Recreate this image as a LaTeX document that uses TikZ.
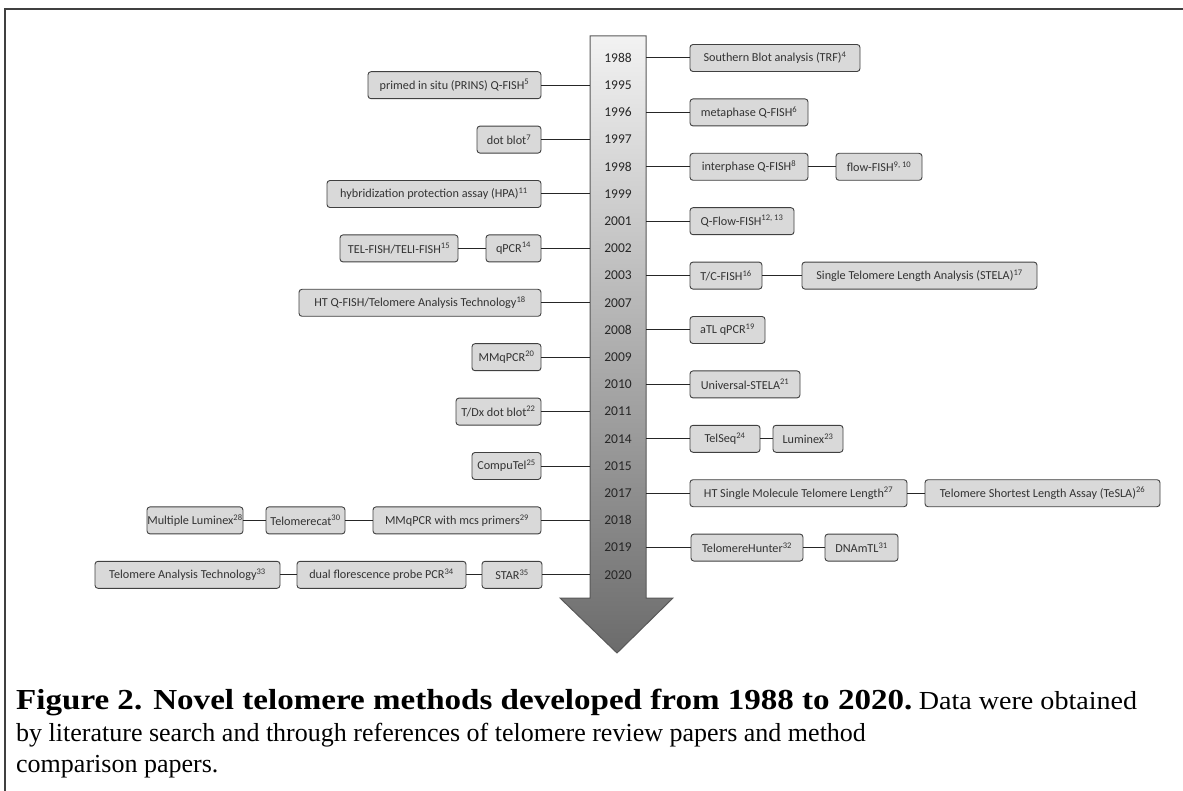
\documentclass[tikz,border=0pt]{standalone}
\usepackage{fontspec}
\setmainfont{Liberation Serif}
\newfontfamily\boxfont{Carlito}
\begin{document}
\begin{tikzpicture}[x=1pt,y=-1pt,
  box/.style={draw=black!75, line width=0.9pt, rounded corners=3pt, fill=black!15,
    minimum height=27pt, inner sep=0pt, font=\boxfont\fontsize{12.2}{14}\selectfont, text=black!80},
  yr/.style={font=\boxfont\fontsize{13.5}{16}\selectfont, text=black!85, inner sep=0pt},
  conn/.style={draw=black!85, line width=1pt},
  captxt/.style={anchor=base west, inner sep=0pt, font=\fontsize{26}{30}\selectfont}]
\useasboundingbox (0,0) rectangle (1183,791);
% border
\draw[line width=2pt, black!75] (5,791) -- (5,9) -- (1183,9);
% arrow
\shade[top color=black!5, bottom color=black!58, draw=black!65, line width=1pt]
  (590,36) -- (646,36) -- (646,598) -- (673,598) -- (617,653) -- (560,598) -- (590,598) -- cycle;
\coordinate (sL) at (590,0);
\coordinate (sR) at (646,0);
% years
\node[yr] (y88) at (618,58) {1988};
\node[yr] (y95) at (618,85.2) {1995};
\node[yr] (y96) at (618,112.4) {1996};
\node[yr] (y97) at (618,139.6) {1997};
\node[yr] (y98) at (618,166.8) {1998};
\node[yr] (y99) at (618,194) {1999};
\node[yr] (y01) at (618,221.2) {2001};
\node[yr] (y02) at (618,248.4) {2002};
\node[yr] (y03) at (618,275.6) {2003};
\node[yr] (y07) at (618,302.8) {2007};
\node[yr] (y08) at (618,330) {2008};
\node[yr] (y09) at (618,357.2) {2009};
\node[yr] (y10) at (618,384.4) {2010};
\node[yr] (y11) at (618,411.6) {2011};
\node[yr] (y14) at (618,438.8) {2014};
\node[yr] (y15) at (618,466) {2015};
\node[yr] (y17) at (618,493.2) {2017};
\node[yr] (y18) at (618,520.4) {2018};
\node[yr] (y19) at (618,547.6) {2019};
\node[yr] (y20) at (618,574.8) {2020};
% right boxes
\node[box, minimum width=170pt] (r88) at (775,58) {Southern Blot analysis (TRF)\textsuperscript{4}};
\node[box, minimum width=118pt] (r96) at (749,112.4) {metaphase Q-FISH\textsuperscript{6}};
\node[box, minimum width=118pt] (r98a) at (749,166.8) {interphase Q-FISH\textsuperscript{8}};
\node[box, minimum width=86pt] (r98b) at (879,166.8) {flow-FISH\textsuperscript{9, 10}};
\node[box, minimum width=104pt] (r01) at (742,221.2) {Q-Flow-FISH\textsuperscript{12, 13}};
\node[box, minimum width=72pt] (r03a) at (726,275.6) {T/C-FISH\textsuperscript{16}};
\node[box, minimum width=235pt] (r03b) at (919.5,275.6) {Single Telomere Length Analysis (STELA)\textsuperscript{17}};
\node[box, minimum width=75pt] (r08) at (727.5,330) {aTL qPCR\textsuperscript{19}};
\node[box, minimum width=110pt] (r10) at (745,384.4) {Universal-STELA\textsuperscript{21}};
\node[box, minimum width=70pt] (r14a) at (725,438.8) {TelSeq\textsuperscript{24}};
\node[box, minimum width=70pt] (r14b) at (808,438.8) {Luminex\textsuperscript{23}};
\node[box, minimum width=217pt] (r17a) at (798.5,493.2) {HT Single Molecule Telomere Length\textsuperscript{27}};
\node[box, minimum width=235pt] (r17b) at (1042.5,493.2) {Telomere Shortest Length Assay (TeSLA)\textsuperscript{26}};
\node[box, minimum width=112pt] (r19a) at (747,547.6) {TelomereHunter\textsuperscript{32}};
\node[box, minimum width=73pt] (r19b) at (861.5,547.6) {DNAmTL\textsuperscript{31}};
% left boxes
\node[box, minimum width=173pt] (l95) at (454.5,85.2) {primed in situ (PRINS) Q-FISH\textsuperscript{5}};
\node[box, minimum width=64pt] (l97) at (509,139.6) {dot blot\textsuperscript{7}};
\node[box, minimum width=214pt] (l99) at (434,194) {hybridization protection assay (HPA)\textsuperscript{11}};
\node[box, minimum width=55pt] (l02a) at (513.5,248.4) {qPCR\textsuperscript{14}};
\node[box, minimum width=118pt] (l02b) at (399,248.4) {TEL-FISH/TELI-FISH\textsuperscript{15}};
\node[box, minimum width=242pt] (l07) at (420,302.8) {HT Q-FISH/Telomere Analysis Technology\textsuperscript{18}};
\node[box, minimum width=69pt] (l09) at (506.5,357.2) {MMqPCR\textsuperscript{20}};
\node[box, minimum width=85pt] (l11) at (498.5,411.6) {T/Dx dot blot\textsuperscript{22}};
\node[box, minimum width=69pt] (l15) at (506.5,466) {CompuTel\textsuperscript{25}};
\node[box, minimum width=168pt] (l18a) at (457,520.4) {MMqPCR with mcs primers\textsuperscript{29}};
\node[box, minimum width=79pt] (l18b) at (305.5,520.4) {Telomerecat\textsuperscript{30}};
\node[box, minimum width=96pt] (l18c) at (195,520.4) {Multiple Luminex\textsuperscript{28}};
\node[box, minimum width=60pt] (l20a) at (512,574.8) {STAR\textsuperscript{35}};
\node[box, minimum width=169pt] (l20b) at (381.5,574.8) {dual florescence probe PCR\textsuperscript{34}};
\node[box, minimum width=185pt] (l20c) at (187.5,574.8) {Telomere Analysis Technology\textsuperscript{33}};
% connectors to shaft (right)
\foreach \n in {r88,r96,r98a,r01,r03a,r08,r10,r14a,r17a,r19a}
  \draw[conn] (\n.west) -- (\n.west -| sR);
% connectors to shaft (left)
\foreach \n in {l95,l97,l99,l02a,l07,l09,l11,l15,l18a,l20a}
  \draw[conn] (\n.east) -- (\n.east -| sL);
% chained connectors
\draw[conn] (r98a.east) -- (r98b.west);
\draw[conn] (r03a.east) -- (r03b.west);
\draw[conn] (r14a.east) -- (r14b.west);
\draw[conn] (r17a.east) -- (r17b.west);
\draw[conn] (r19a.east) -- (r19b.west);
\draw[conn] (l02a.west) -- (l02b.east);
\draw[conn] (l18a.west) -- (l18b.east);
\draw[conn] (l18b.west) -- (l18c.east);
\draw[conn] (l20a.west) -- (l20b.east);
\draw[conn] (l20b.west) -- (l20c.east);
% caption
\node[captxt] (cap1) at (16,709) {\scalebox{1.14}[1]{\fontsize{29}{32}\selectfont\bfseries Figure 2. Novel telomere methods developed from 1988 to 2020.} \scalebox{1.08}[1]{Data were obtained}};
\node[captxt] (cap2) at (16,741) {by literature search and through references of telomere review papers and method};
\node[captxt] (cap3) at (16,772) {comparison papers.};
\end{tikzpicture}
\end{document}
